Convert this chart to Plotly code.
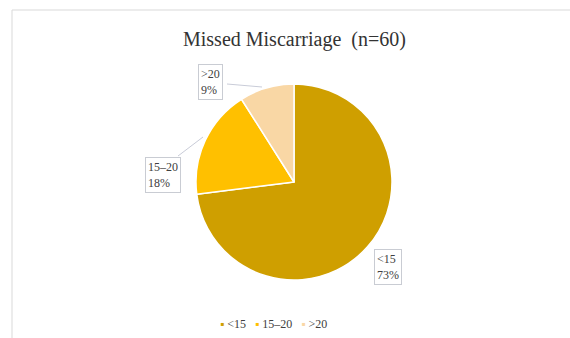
import plotly.graph_objects as go

# Data
categories = ["<15", "15\u201320", ">20"]
values = [73, 18, 9]
title_text = "Missed Miscarriage  (n=60)"

# Style
colors = ["#CF9F00", "#FFC000", "#F9D7A5"]
W, H = 570, 338
font_serif = "Liberation Serif, Times New Roman, serif"

# pie geometry (px)
cx, cy, r = 294, 182, 98
# label box centers (px)
label_pos = [(387.5, 266.5), (162.5, 174.5), (210.5, 82.5)]
# leader lines (px)
leaders = [None, ((178, 156), (203, 137)), ((227, 84), (262, 87))]


def px(x):
    return x / W


def py(y):
    return (H - y) / H


fig = go.Figure()
fig.add_trace(go.Pie(
    labels=categories,
    values=values,
    sort=False,
    direction="clockwise",
    rotation=0,
    marker=dict(colors=colors, line=dict(color="#FFFFFF", width=1.5)),
    textinfo="none",
    showlegend=False,
    domain=dict(x=[px(cx - r), px(cx + r)], y=[py(cy + r), py(cy - r)]),
))

total = sum(values)
annotations = [dict(
    text=title_text, x=px(294), y=py(39), xref="paper", yref="paper",
    showarrow=False, xanchor="center", yanchor="middle",
    font=dict(family=font_serif, size=20, color="#333333"),
)]
for cat, v, (lx, ly) in zip(categories, values, label_pos):
    annotations.append(dict(
        text=f"{cat}<br>{round(v / total * 100)}%",
        x=px(lx), y=py(ly), xref="paper", yref="paper",
        showarrow=False, xanchor="center", yanchor="middle", align="left",
        font=dict(family=font_serif, size=12, color="#404040"),
        bordercolor="#C9CCD3", borderwidth=1, borderpad=2, bgcolor="#FFFFFF",
    ))

# legend drawn as a single text line built from the data
legend_text = "&nbsp;&nbsp;&nbsp;".join(
    f'<span style="color:{c}">\u25aa</span>&nbsp;{cat.replace("<", "&lt;").replace(">", "&gt;")}'
    for c, cat in zip(colors, categories)
)
annotations.append(dict(
    text=legend_text, x=px(273), y=py(324), xref="paper", yref="paper",
    showarrow=False, xanchor="center", yanchor="middle",
    font=dict(family=font_serif, size=12, color="#404040"),
))

shapes = [dict(type="rect", xref="paper", yref="paper",
               x0=px(12), x1=1.02, y0=-0.02, y1=py(10),
               line=dict(color="#D9D9D9", width=1), fillcolor="rgba(0,0,0,0)", layer="below")]
for ln in leaders:
    if ln:
        (x0, y0), (x1, y1) = ln
        shapes.append(dict(type="line", xref="paper", yref="paper",
                           x0=px(x0), y0=py(y0), x1=px(x1), y1=py(y1),
                           line=dict(color="#C9CCD8", width=1)))

fig.update_layout(
    width=W, height=H,
    margin=dict(l=0, r=0, t=0, b=0),
    paper_bgcolor="#FFFFFF",
    plot_bgcolor="#FFFFFF",
    annotations=annotations,
    shapes=shapes,
    showlegend=False,
)

fig.write_html("out.html")
